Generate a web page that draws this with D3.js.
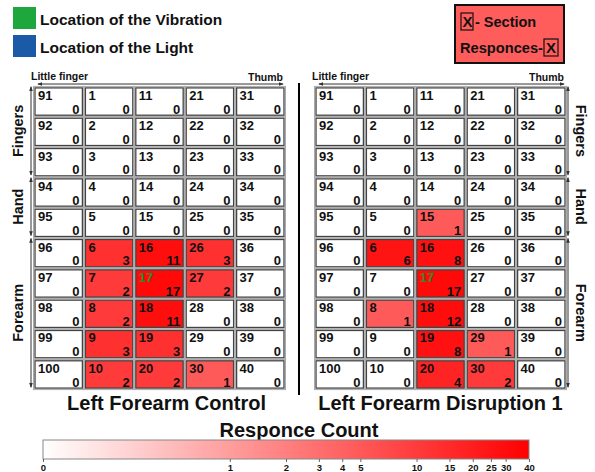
<!DOCTYPE html>
<html>
<head>
<meta charset="utf-8">
<script src="https://cdn.jsdelivr.net/npm/d3@7"></script>
<style>
  body { margin: 0; background: #fff; }
  text { font-family: "Liberation Sans", Arial, sans-serif; font-weight: bold; }
</style>
</head>
<body>
<script>
// section numbers, one array per column (little finger -> thumb), rows top -> bottom
var sections = [
    [91, 92, 93, 94, 95, 96, 97, 98, 99, 100],
    [1, 2, 3, 4, 5, 6, 7, 8, 9, 10],
    [11, 12, 13, 14, 15, 16, 17, 18, 19, 20],
    [21, 22, 23, 24, 25, 26, 27, 28, 29, 30],
    [31, 32, 33, 34, 35, 36, 37, 38, 39, 40]
];
var controlCounts = [
    [0, 0, 0, 0, 0, 0, 0, 0, 0, 0],
    [0, 0, 0, 0, 0, 3, 2, 2, 3, 2],
    [0, 0, 0, 0, 0, 11, 17, 11, 3, 2],
    [0, 0, 0, 0, 0, 3, 2, 0, 0, 1],
    [0, 0, 0, 0, 0, 0, 0, 0, 0, 0]
];
var disruptionCounts = [
    [0, 0, 0, 0, 0, 0, 0, 0, 0, 0],
    [0, 0, 0, 0, 0, 6, 0, 1, 0, 0],
    [0, 0, 0, 0, 1, 8, 17, 12, 8, 4],
    [0, 0, 0, 0, 0, 0, 0, 0, 1, 2],
    [0, 0, 0, 0, 0, 0, 0, 0, 0, 0]
];
var vibrationSection = 17;
var panelTitles = ["Left Forearm Control", "Left Forearm Disruption 1"];
var regions = [
    { name: "Fingers", rows: [0, 2] },
    { name: "Hand", rows: [3, 4] },
    { name: "Forearm", rows: [5, 9] }
];
var colorTicks = [0, 1, 2, 3, 4, 5, 10, 15, 20, 25, 30, 40];

var W = 595, H = 472;
var svg = d3.select("body").append("svg").attr("width", W).attr("height", H);

var defs = svg.append("defs");
defs.append("marker").attr("id", "ah")
    .attr("viewBox", "0 0 6 6").attr("refX", 5).attr("refY", 3)
    .attr("markerWidth", 5).attr("markerHeight", 5).attr("orient", "auto-start-reverse")
    .append("path").attr("d", "M0,0.8L6,3L0,5.2Z").attr("fill", "#333");

var cellColor = d3.scaleLog()
    .domain([1, 2, 3, 6, 40])
    .range(["#ff5a5a", "#ff3a3a", "#ff3030", "#ff1414", "#ff0000"])
    .clamp(true);
function fillFor(v) { return v > 0 ? cellColor(v) : "#ffffff"; }

var rowIdx = d3.range(10), colIdx = d3.range(5);
var y = d3.scaleBand().domain(rowIdx).range([87, 389]).paddingInner(0.1).paddingOuter(0.03);

var panels = [
    { counts: controlCounts, x0: 34, x1: 285, side: "left" },
    { counts: disruptionCounts, x0: 315, x1: 566, side: "right" }
];

panels.forEach(function(p, pi) {
    var x = d3.scaleBand().domain(colIdx).range([p.x0, p.x1]).paddingInner(0.06).paddingOuter(0.02);
    var g = svg.append("g");

    var cells = [];
    colIdx.forEach(function(c) {
        rowIdx.forEach(function(r) {
            cells.push({ c: c, r: r, sec: sections[c][r], v: p.counts[c][r] });
        });
    });

    var cell = g.selectAll(".cell").data(cells).enter().append("g")
        .attr("transform", function(d) { return "translate(" + x(d.c) + "," + y(d.r) + ")"; });
    cell.append("rect")
        .attr("x", -1.5).attr("y", -1.5)
        .attr("width", x.bandwidth() + 3).attr("height", y.bandwidth() + 3)
        .attr("fill", "none").attr("stroke", "#aaa").attr("stroke-width", 1);
    cell.append("rect")
        .attr("width", x.bandwidth()).attr("height", y.bandwidth())
        .attr("fill", function(d) { return fillFor(d.v); })
        .attr("stroke", "#444").attr("stroke-width", 1.3);
    cell.append("text")
        .attr("x", 3).attr("y", 12)
        .attr("font-size", 13)
        .attr("fill", function(d) { return d.sec === vibrationSection ? "#2e8b2e" : "#111"; })
        .text(function(d) { return d.sec; });
    cell.append("text")
        .attr("x", x.bandwidth() - 3).attr("y", y.bandwidth() - 1.5)
        .attr("text-anchor", "end").attr("font-size", 13).attr("fill", "#111")
        .text(function(d) { return d.v; });

    // top arrow: little finger -> thumb
    var ax0 = x(0) + 3, ax1 = x(4) + x.bandwidth() - 1;
    g.append("line").attr("x1", ax0).attr("x2", ax1).attr("y1", 84).attr("y2", 84)
        .attr("stroke", "#333").attr("stroke-width", 1)
        .attr("marker-start", "url(#ah)").attr("marker-end", "url(#ah)");
    g.append("text").attr("x", x(0) - 4).attr("y", 80).attr("font-size", 10.5).attr("fill", "#111").text("Little finger");
    g.append("text").attr("x", ax1).attr("y", 81).attr("text-anchor", "end").attr("font-size", 10.5).attr("fill", "#111").text("Thumb");

    // side arrows + region labels
    var arrowX = p.side === "left" ? p.x0 - 3 : p.x1 + 2;
    var labelX = p.side === "left" ? 18 : 581;
    regions.forEach(function(reg) {
        var ya = y(reg.rows[0]) - 1, yb = y(reg.rows[1]) + y.bandwidth() - 1;
        g.append("line").attr("x1", arrowX).attr("x2", arrowX).attr("y1", ya).attr("y2", yb)
            .attr("stroke", "#333").attr("stroke-width", 1)
            .attr("marker-start", "url(#ah)").attr("marker-end", "url(#ah)");
        var cy = (ya + yb) / 2;
        g.append("text")
            .attr("transform", "translate(" + labelX + "," + cy + ") rotate(" + (p.side === "left" ? -90 : 90) + ")")
            .attr("text-anchor", "middle").attr("dy", "0.35em")
            .attr("font-size", 14.5).attr("fill", "#111")
            .text(reg.name);
    });

    g.append("text")
        .attr("x", (p.x0 + p.x1) / 2 + (pi === 0 ? 7 : 0)).attr("y", 410)
        .attr("text-anchor", "middle").attr("font-size", 20).attr("fill", "#111")
        .text(panelTitles[pi]);
});

// divider
svg.append("line").attr("x1", 299).attr("x2", 299).attr("y1", 83).attr("y2", 395)
    .attr("stroke", "#000").attr("stroke-width", 2);

// legend top-left
var legendItems = [
    { label: "Location of the Vibration", color: "#1ea73c" },
    { label: "Location of the Light", color: "#1a5aa6" }
];
var lg = svg.append("g");
legendItems.forEach(function(d, i) {
    lg.append("rect").attr("x", 13).attr("y", 7 + i * 28).attr("width", 23).attr("height", 22).attr("fill", d.color);
    lg.append("text").attr("x", 40).attr("y", 25 + i * 28).attr("font-size", 15.5).attr("fill", "#111").text(d.label);
});

// legend box top-right
var kb = svg.append("g");
kb.append("rect").attr("x", 455).attr("y", 5).attr("width", 109).attr("height", 58)
    .attr("fill", "#ff5c5c").attr("stroke", "#111").attr("stroke-width", 2);
kb.append("rect").attr("x", 461).attr("y", 13).attr("width", 12).attr("height", 17)
    .attr("fill", "none").attr("stroke", "#111").attr("stroke-width", 1.2);
kb.append("text").attr("x", 462.5).attr("y", 27).attr("font-size", 15).attr("fill", "#111").text("X");
kb.append("text").attr("x", 475).attr("y", 27).attr("font-size", 14.5).attr("fill", "#111").text("- Section");
kb.append("text").attr("x", 460).attr("y", 53).attr("font-size", 14.5).attr("fill", "#111")
    .attr("textLength", 83).attr("lengthAdjust", "spacingAndGlyphs").text("Responces-");
kb.append("rect").attr("x", 544).attr("y", 39).attr("width", 14).attr("height", 17)
    .attr("fill", "none").attr("stroke", "#111").attr("stroke-width", 1.2);
kb.append("text").attr("x", 546).attr("y", 53).attr("font-size", 15).attr("fill", "#111").text("X");

// colour bar
var cb = d3.scaleLog().domain([0.1, 40]).range([43, 529]);
var grad = defs.append("linearGradient").attr("id", "cbar").attr("x1", "0%").attr("x2", "100%");
grad.append("stop").attr("offset", "0%").attr("stop-color", "#ffffff");
grad.append("stop").attr("offset", "100%").attr("stop-color", "#ff0000");

svg.append("text").attr("x", 299).attr("y", 437).attr("text-anchor", "middle")
    .attr("font-size", 20).attr("fill", "#111").text("Responce Count");
svg.append("rect").attr("x", cb(0.1)).attr("y", 440).attr("width", cb(40) - cb(0.1)).attr("height", 19)
    .attr("fill", "url(#cbar)").attr("stroke", "#888").attr("stroke-width", 1);

var axis = d3.axisBottom(cb)
    .tickValues(colorTicks.map(function(t) { return t === 0 ? 0.1 : t; }))
    .tickFormat(function(t) { return t === 0.1 ? "0" : d3.format("d")(t); })
    .tickSize(3).tickPadding(2);
var ag = svg.append("g").attr("transform", "translate(0,459)").call(axis);
ag.select(".domain").remove();
ag.selectAll("line").attr("stroke", "#666");
ag.selectAll("text").attr("font-size", 9.5).attr("fill", "#111")
    .attr("font-family", "\"DejaVu Sans\", sans-serif").attr("font-weight", "bold");
</script>
</body>
</html>
